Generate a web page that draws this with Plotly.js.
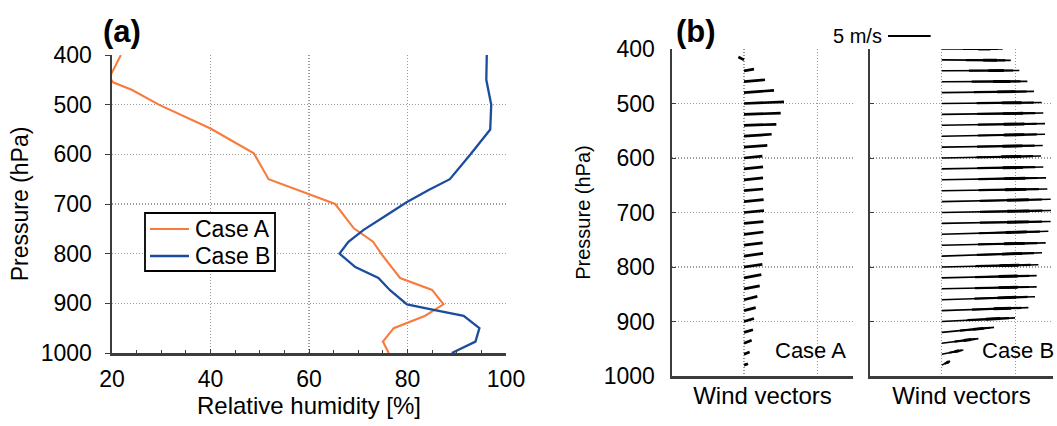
<!DOCTYPE html>
<html><head><meta charset="utf-8">
<script src="https://cdn.plot.ly/plotly-3.0.1.min.js"></script>
<style>html,body{margin:0;padding:0;background:#fff}#chart{width:1057px;height:426px}</style>
</head><body><div id="chart"></div>
<script>
// ---- Panel (a): relative humidity profiles ----
const rhA_p = [400, 445, 455, 470, 500, 548, 598, 650, 680, 700, 749, 776, 802, 849, 873, 902, 916, 925, 950, 977, 1000];
const rhA   = [21.8, 19.5, 20.2, 24.0, 29.5, 40.0, 48.8, 51.8, 59.9, 65.3, 69.1, 73.0, 74.8, 78.5, 85.0, 87.3, 85.0, 83.6, 77.2, 75.0, 76.2];
const rhB_p = [400, 450, 500, 550, 600, 650, 672, 696, 722, 752, 776, 800, 827, 849, 874, 902, 913, 925, 950, 977, 1000];
const rhB   = [96.1, 96.0, 97.0, 96.8, 92.8, 88.6, 84.3, 79.9, 75.8, 71.1, 68.0, 66.2, 69.4, 74.1, 76.5, 79.9, 85.3, 91.4, 94.6, 93.8, 89.0];

// ---- Panel (b): wind vectors (m/s) ----
const windLevels = [400, 420, 440, 460, 480, 500, 520, 540, 560, 580, 600, 620, 640, 660, 680, 700, 720, 740, 760, 780, 800, 820, 840, 860, 880, 900, 920, 940, 960, 980];
const uA = [0, -0.66, 1.17, 2.46, 3.52, 4.69, 4.30, 3.79, 3.24, 2.73, 2.15, 2.23, 2.23, 2.23, 2.30, 2.34, 2.27, 2.27, 2.19, 2.23, 2.15, 2.03, 1.84, 1.56, 1.37, 1.17, 1.05, 0.90, 0.66, 0.47];
const vA = [0, 0.34, 0.20, 0.23, 0.26, 0.20, 0.16, 0.12, 0.23, 0.20, 0.23, 0.23, 0.23, 0.20, 0.23, 0.23, 0.20, 0.27, 0.27, 0.31, 0.31, 0.39, 0.35, 0.39, 0.35, 0.35, 0.31, 0.35, 0.27, 0.16];
const uB = [7.15, 8.09, 9.10, 10.04, 10.82, 11.72, 11.91, 12.11, 12.11, 11.84, 11.64, 11.91, 12.23, 12.38, 12.77, 12.81, 12.77, 12.50, 12.19, 11.76, 11.33, 11.13, 11.13, 10.94, 10.16, 8.59, 6.13, 4.30, 2.54, 0.98];
const vB = [0.00, -0.05, 0.04, 0.04, 0.14, 0.12, 0.16, 0.20, 0.23, 0.18, 0.23, 0.23, 0.23, 0.20, 0.27, 0.23, 0.23, 0.35, 0.27, 0.39, 0.27, 0.27, 0.23, 0.35, 0.35, 0.43, 0.59, 0.55, 0.50, 0.47];
const scaleSpeed = 5; // m/s reference arrow
const labels = {a: '(a)', b: '(b)', caseA: 'Case A', caseB: 'Case B'};

// quiver scaling: x-axis grid units per m/s, hPa per m/s of v
const K = 8.53 / 73.5;
const KV = 15.65;

const W = 1057, H = 426;
const fx = px => px / W, fy = px => 1 - px / H;

function quiver(levels, u, v, f0, f1) {
  const x = [], y = [];
  for (let i = 0; i < levels.length; i++) {
    const p = levels[i];
    x.push(f0 * u[i] * K, f1 * u[i] * K, null);
    y.push(p - f0 * v[i] * KV, p - f1 * v[i] * KV, null);
  }
  return {x, y};
}

const FONT = 'Liberation Sans, Arial, sans-serif';
const AX = '#3c3c3c';
const GRID = '#9a9a9a';
const COL_A = '#F87B3E', COL_B = '#1B4C9E';

const qA = quiver(windLevels, uA, vA, 0, 1);
const qB = quiver(windLevels, uB, vB, 0, 1);
const qBm = quiver(windLevels, uB, vB, 0.35, 0.92);
const qBh = quiver(windLevels, uB, vB, 0.6, 0.8);

const traces = [
  {x: rhA, y: rhA_p, type: 'scatter', mode: 'lines', name: labels.caseA,
   line: {color: COL_A, width: 2.1}, xaxis: 'x', yaxis: 'y'},
  {x: rhB, y: rhB_p, type: 'scatter', mode: 'lines', name: labels.caseB,
   line: {color: COL_B, width: 2.3}, xaxis: 'x', yaxis: 'y'},
  {x: qA.x, y: qA.y, type: 'scatter', mode: 'lines', showlegend: false, hoverinfo: 'skip',
   line: {color: '#000', width: 2.7}, xaxis: 'x2', yaxis: 'y2'},
  {x: qB.x, y: qB.y, type: 'scatter', mode: 'lines', showlegend: false, hoverinfo: 'skip',
   line: {color: '#000', width: 1.6}, xaxis: 'x3', yaxis: 'y3'},
  {x: qBm.x, y: qBm.y, type: 'scatter', mode: 'lines', showlegend: false, hoverinfo: 'skip',
   line: {color: '#000', width: 2.2}, xaxis: 'x3', yaxis: 'y3'},
  {x: qBh.x, y: qBh.y, type: 'scatter', mode: 'lines', showlegend: false, hoverinfo: 'skip',
   line: {color: '#000', width: 2.9}, xaxis: 'x3', yaxis: 'y3'}
];

const gridCommon = {showgrid: true, gridcolor: GRID, griddash: '1.3px,1.7px', gridwidth: 1.3,
  showline: true, linecolor: AX, linewidth: 2.5, zeroline: false, tickcolor: AX,
  tickfont: {family: FONT, size: 23, color: '#000'}};

// legend box geometry (pixels)
const LG = {x0: 145, x1: 275, y0: 213, y1: 271, lx0: 150, lx1: 189, tx: 193, r1: 229, r2: 256};

const layout = {
  width: W, height: H,
  margin: {l: 0, r: 0, t: 0, b: 0},
  paper_bgcolor: '#fff', plot_bgcolor: '#fff',
  font: {family: FONT, color: '#000'},
  showlegend: false,
  xaxis: Object.assign({}, gridCommon, {
    domain: [fx(112), fx(506)], range: [20, 100], dtick: 20, tick0: 20, anchor: 'y',
    ticks: 'inside', ticklen: 4, ticklabelstandoff: 4,
    minor: {dtick: 5, ticks: 'inside', ticklen: 3, showgrid: false, tickcolor: AX},
    title: {text: 'Relative humidity [%]', font: {family: FONT, size: 24}, standoff: 6}
  }),
  yaxis: Object.assign({}, gridCommon, {
    domain: [fy(353), fy(55)], range: [1000, 400], dtick: 100, tick0: 400, anchor: 'x',
    ticks: 'outside', ticklen: 5, ticklabelstandoff: 8,
    title: {text: 'Pressure (hPa)', font: {family: FONT, size: 23}, standoff: 6}
  }),
  xaxis2: Object.assign({}, gridCommon, {
    domain: [fx(672), fx(853)], range: [-0.98, 1.483], tickvals: [0, 1], showticklabels: false,
    ticks: '', anchor: 'y2',
    title: {text: 'Wind vectors', font: {family: FONT, size: 24}, standoff: 10}
  }),
  yaxis2: Object.assign({}, gridCommon, {
    domain: [fy(376), fy(49)], range: [1000, 400], dtick: 100, tick0: 400, anchor: 'x2',
    ticks: 'inside', ticklen: 4, ticklabelstandoff: 10,
    title: {text: 'Pressure (hPa)', font: {family: FONT, size: 20}, standoff: 8}
  }),
  xaxis3: Object.assign({}, gridCommon, {
    domain: [fx(870), fx(1053)], range: [-0.976, 1.514], tickvals: [0, 1], showticklabels: false,
    ticks: '', anchor: 'y3',
    title: {text: 'Wind vectors', font: {family: FONT, size: 24}, standoff: 10}
  }),
  yaxis3: Object.assign({}, gridCommon, {
    domain: [fy(376), fy(49)], range: [1000, 400], dtick: 100, tick0: 400, anchor: 'x3',
    ticks: 'inside', ticklen: 4, showticklabels: false
  }),
  shapes: [
    {type: 'line', xref: 'x3', yref: 'paper', x0: -0.731, x1: -0.731 + scaleSpeed * K,
     y0: fy(36), y1: fy(36), line: {color: '#000', width: 2}},
    {type: 'rect', xref: 'paper', yref: 'paper', x0: fx(LG.x0), x1: fx(LG.x1), y0: fy(LG.y1), y1: fy(LG.y0),
     fillcolor: '#fff', line: {color: '#000', width: 1.8}, layer: 'above'},
    {type: 'line', xref: 'paper', yref: 'paper', x0: fx(LG.lx0), x1: fx(LG.lx1), y0: fy(LG.r1), y1: fy(LG.r1),
     line: {color: COL_A, width: 2.1}, layer: 'above'},
    {type: 'line', xref: 'paper', yref: 'paper', x0: fx(LG.lx0), x1: fx(LG.lx1), y0: fy(LG.r2), y1: fy(LG.r2),
     line: {color: COL_B, width: 2.3}, layer: 'above'}
  ],
  annotations: [
    {text: '<b>' + labels.a + '</b>', xref: 'paper', yref: 'paper', x: fx(122), y: fy(32),
     xanchor: 'center', yanchor: 'middle', showarrow: false, font: {family: FONT, size: 31}},
    {text: '<b>' + labels.b + '</b>', xref: 'paper', yref: 'paper', x: fx(696), y: fy(32),
     xanchor: 'center', yanchor: 'middle', showarrow: false, font: {family: FONT, size: 31}},
    {text: scaleSpeed + ' m/s', xref: 'paper', yref: 'paper', x: fx(884), y: fy(36),
     xanchor: 'right', yanchor: 'middle', showarrow: false, font: {family: FONT, size: 20}},
    {text: labels.caseA, xref: 'paper', yref: 'paper', x: fx(848), y: fy(350),
     xanchor: 'right', yanchor: 'middle', showarrow: false, font: {family: FONT, size: 22}},
    {text: labels.caseB, xref: 'paper', yref: 'paper', x: fx(1056), y: fy(350),
     xanchor: 'right', yanchor: 'middle', showarrow: false, font: {family: FONT, size: 22}},
    {text: labels.caseA, xref: 'paper', yref: 'paper', x: fx(LG.tx), y: fy(LG.r1),
     xanchor: 'left', yanchor: 'middle', showarrow: false, font: {family: FONT, size: 23}},
    {text: labels.caseB, xref: 'paper', yref: 'paper', x: fx(LG.tx), y: fy(LG.r2),
     xanchor: 'left', yanchor: 'middle', showarrow: false, font: {family: FONT, size: 23}}
  ]
};

Plotly.newPlot('chart', traces, layout, {displayModeBar: false, staticPlot: true});
</script></body></html>
